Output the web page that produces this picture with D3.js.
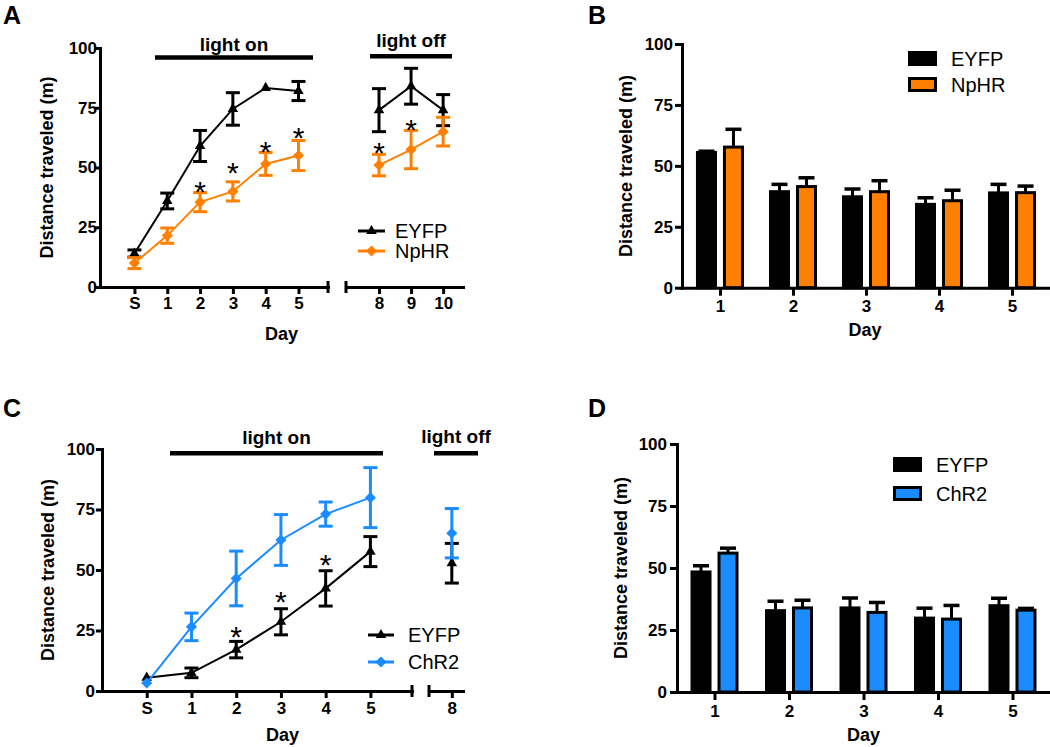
<!DOCTYPE html>
<html><head><meta charset="utf-8">
<script src="https://cdn.jsdelivr.net/npm/d3@7"></script>
<style>
body{margin:0;background:#fff;}
svg{display:block;font-family:"Liberation Sans",Arial,sans-serif;background:#fff;}
</style></head><body>
<svg id="fig" width="1050" height="747"></svg>
<script>
// ---------- Panel A (line, NpHR) ----------
const daysA = [0,1,2,3,4,5,8,9,10];
const dayLabelsA = ["S","1","2","3","4","5","8","9","10"];
const eyfpA = [14,36,59,74.5,83.3,82,74,84,74];
const eyfpAErr = [1.5,3.3,6.5,6.8,0,4,9,7.5,6.5];
const nphrA = [10,21.5,35.5,40,51.5,55,51,57.5,65];
const nphrAErr = [2.3,3.2,4,4,4.8,6.3,4.5,8,6];
const starsADay = [2,3,4,5,8,9];
const starsAY = [42.7,50.8,59.4,65.4,59,68.7];

// ---------- Panel B (bars, NpHR) ----------
const daysB = ["1","2","3","4","5"];
const eyfpB = [55.5,39.4,37.3,34.2,38.9];
const eyfpBErr = [0.5,3,3.2,2.7,3.5];
const nphrB = [57.7,41.5,39.4,35.7,39];
const nphrBErr = [7.3,3.6,4.5,4.3,2.7];

// ---------- Panel C (line, ChR2) ----------
const daysC = [0,1,2,3,4,5,8];
const dayLabelsC = ["S","1","2","3","4","5","8"];
const eyfpC = [5.5,7.5,17.1,28.6,42.4,57.6,52.8];
const eyfpCErr = [0,2,3.4,5.4,7.3,6.2,8.2];
const chr2C = [3.3,26.5,46.5,62.4,73.1,79.9,65.2];
const chr2CErr = [0,5.7,11.3,10.5,5,12.4,10.2];
const starsCDay = [2,3,4];
const starsCY = [25.2,39.7,55];

// ---------- Panel D (bars, ChR2) ----------
const daysD = ["1","2","3","4","5"];
const eyfpD = [48.4,32.8,33.9,29.8,34.8];
const eyfpDErr = [2.5,3.8,4,4,3];
const chr2D = [56,33.9,32.1,29.4,33];
const chr2DErr = [2,3.1,4,5.5,0.7];

const yTicks = [0,25,50,75,100];
const yTitle = "Distance traveled (m)";
const xTitle = "Day";

const FONT = '"Liberation Sans", Arial, sans-serif';
const ORANGE = "#ff8000", BLUE = "#1a8cff", BLACK = "#000";
const svg = d3.select("#fig");

function styleAxis(g){
  g.selectAll("path.domain").attr("stroke",BLACK).attr("stroke-width",3).attr("stroke-linecap","square");
  g.selectAll(".tick line").attr("stroke",BLACK).attr("stroke-width",3);
  g.selectAll(".tick text").attr("fill",BLACK).attr("font-size",17).attr("font-weight","bold").attr("font-family",FONT);
}

function titles(g, c){
  g.append("text").attr("transform",`translate(${c.yTitleX},${c.yTitleY}) rotate(-90)`)
    .attr("text-anchor","middle").attr("font-size",18).attr("font-weight","bold").text(yTitle);
  g.append("text").attr("x",c.xTitleX).attr("y",c.xTitleY).attr("text-anchor","middle")
    .attr("font-size",18).attr("font-weight","bold").text(xTitle);
  g.append("text").attr("x",c.labelX).attr("y",c.labelY)
    .attr("font-size",25).attr("font-weight","bold").text(c.label);
}

const triSym = d3.symbol(d3.symbolTriangle, 48);
const diaSym = d3.symbol(d3.symbolSquare, 62);

function linePanel(c){
  const g = svg.append("g");
  const y = d3.scaleLinear().domain([0,100]).range(c.yRange);
  const xs = c.segments.map(s => d3.scaleLinear().domain(s.domain).range(s.range));
  const segOf = d => c.segments.findIndex(s => d >= s.domain[0] && d <= s.domain[1]);
  const xOf = d => xs[segOf(d)](d);
  const y0 = c.yRange[0];

  // axes
  const ya = g.append("g").attr("transform",`translate(${c.yAxisX},0)`)
    .call(d3.axisLeft(y).tickValues(yTicks).tickSize(c.yTick).tickPadding(c.yPad).tickSizeOuter(0));
  styleAxis(ya);
  c.segments.forEach((s,k) => {
    const tv = c.days.filter(d => d >= s.domain[0] && d <= s.domain[1]);
    const xa = g.append("g").attr("transform",`translate(0,${y0})`)
      .call(d3.axisBottom(xs[k]).tickValues(tv).tickFormat(d => c.labels[c.days.indexOf(d)])
        .tickSize(7).tickPadding(c.xPad).tickSizeOuter(0));
    styleAxis(xa);
    s.breaks.forEach(b => {
      const bx = xs[k](s.domain[b]);
      g.append("line").attr("x1",bx).attr("x2",bx).attr("y1",y0-6).attr("y2",y0+6)
        .attr("stroke",BLACK).attr("stroke-width",3);
    });
  });

  // light annotations
  c.lights.forEach(l => {
    g.append("line").attr("x1",l.x1).attr("x2",l.x2).attr("y1",l.y).attr("y2",l.y)
      .attr("stroke",BLACK).attr("stroke-width",4.5);
    g.append("text").attr("x",(l.x1+l.x2)/2).attr("y",l.ty).attr("text-anchor","middle")
      .attr("font-size",19).attr("font-weight","bold").text(l.text);
  });

  // series
  c.series.forEach(s => {
    const sg = g.append("g");
    c.groups.forEach(grp => {
      sg.append("path").datum(grp)
        .attr("d", d3.line().x(i => xOf(c.days[i])).y(i => y(s.values[i])))
        .attr("fill","none").attr("stroke",s.color).attr("stroke-width",2);
    });
    c.days.forEach((d,i) => {
      const e = s.errs[i]; if (!e) return;
      const x = xOf(d), v = s.values[i];
      sg.append("line").attr("x1",x).attr("x2",x).attr("y1",y(v-e)).attr("y2",y(v+e))
        .attr("stroke",s.color).attr("stroke-width",3);
      [v-e, v+e].forEach(t => sg.append("line").attr("x1",x-7).attr("x2",x+7).attr("y1",y(t)).attr("y2",y(t))
        .attr("stroke",s.color).attr("stroke-width",3));
    });
    c.days.forEach((d,i) => {
      sg.append("path").attr("d", s.sym === "tri" ? triSym() : diaSym())
        .attr("transform",`translate(${xOf(d)},${y(s.values[i])})` + (s.sym === "tri" ? "" : " rotate(45)"))
        .attr("fill",s.color);
    });
  });

  // stars
  c.starDays.forEach((d,i) => {
    g.append("text").attr("x",xOf(d)).attr("y",y(c.starY[i]) + 17).attr("text-anchor","middle")
      .attr("font-size",30).text("*");
  });

  // legend
  c.series.forEach((s,i) => {
    const ly = c.legend.ys[i];
    g.append("line").attr("x1",c.legend.x1).attr("x2",c.legend.x2).attr("y1",ly).attr("y2",ly)
      .attr("stroke",s.color).attr("stroke-width",3);
    g.append("path").attr("d", s.sym === "tri" ? triSym() : diaSym())
      .attr("transform",`translate(${(c.legend.x1+c.legend.x2)/2},${ly})` + (s.sym === "tri" ? "" : " rotate(45)"))
      .attr("fill",s.color);
    g.append("text").attr("x",c.legend.tx).attr("y",ly+7).attr("font-size",20).text(s.name);
  });

  titles(g, c);
}

function barPanel(c){
  const g = svg.append("g");
  const y = d3.scaleLinear().domain([0,100]).range(c.yRange);
  const x = d3.scalePoint().domain(c.days).range([c.yAxisX, 1050]).padding(c.xPadding);
  const sub = d3.scaleBand().domain(c.series.map(s => s.name)).range([-22.5,22.5]).paddingInner(1/3);
  const bw = sub.bandwidth();

  c.series.forEach(s => {
    g.selectAll(null).data(c.days).join("rect")
      .attr("x", d => x(d) + sub(s.name))
      .attr("y", (d,i) => y(s.values[i]))
      .attr("width", bw)
      .attr("height", (d,i) => y(0) - y(s.values[i]))
      .attr("fill", s.color).attr("stroke",BLACK).attr("stroke-width",3);
    c.days.forEach((d,i) => {
      const cx = x(d) + sub(s.name) + bw/2, v = s.values[i], e = s.errs[i];
      g.append("line").attr("x1",cx).attr("x2",cx).attr("y1",y(v)).attr("y2",y(v+e))
        .attr("stroke",BLACK).attr("stroke-width",3);
      g.append("line").attr("x1",cx-8).attr("x2",cx+8).attr("y1",y(v+e)).attr("y2",y(v+e))
        .attr("stroke",BLACK).attr("stroke-width",3.5);
    });
  });

  const ya = g.append("g").attr("transform",`translate(${c.yAxisX},0)`)
    .call(d3.axisLeft(y).tickValues(yTicks).tickSize(c.yTick).tickPadding(c.yPad).tickSizeOuter(0));
  styleAxis(ya);
  const xa = g.append("g").attr("transform",`translate(0,${c.yRange[0]})`)
    .call(d3.axisBottom(x).tickSize(8).tickPadding(c.xPad).tickSizeOuter(0));
  styleAxis(xa);

  c.series.forEach((s,i) => {
    const ly = c.legend.ys[i];
    g.append("rect").attr("x",c.legend.x).attr("y",ly).attr("width",26).attr("height",12)
      .attr("fill",s.color).attr("stroke",BLACK).attr("stroke-width",3);
    g.append("text").attr("x",c.legend.tx).attr("y",ly+13).attr("font-size",20).text(s.name);
  });

  titles(g, c);
}

linePanel({
  label:"A", labelX:3, labelY:24,
  yRange:[287,48], yAxisX:100, yTick:6, yPad:-3, xPad:3,
  days: daysA, labels: dayLabelsA,
  segments:[{domain:[-1.05,5.9], range:[100,328], breaks:[1]},
            {domain:[6.97,10.62], range:[346,463], breaks:[0]}],
  groups:[[0,1,2,3,4,5],[6,7,8]],
  series:[{name:"EYFP", values:eyfpA, errs:eyfpAErr, color:BLACK, sym:"tri"},
          {name:"NpHR", values:nphrA, errs:nphrAErr, color:ORANGE, sym:"dia"}],
  starDays: starsADay, starY: starsAY,
  lights:[{x1:155,x2:313,y:57.5,ty:51,text:"light on"},
          {x1:370,x2:452,y:56.3,ty:47,text:"light off"}],
  legend:{x1:358,x2:385,tx:395,ys:[231,251]},
  yTitleX:53, yTitleY:167.5, xTitleX:281.5, xTitleY:340
});

barPanel({
  label:"B", labelX:588, labelY:24,
  yRange:[287.7,44], yAxisX:682, yTick:7, yPad:2, xPad:4, xPadding:0.52,
  days: daysB,
  series:[{name:"EYFP", values:eyfpB, errs:eyfpBErr, color:BLACK},
          {name:"NpHR", values:nphrB, errs:nphrBErr, color:ORANGE}],
  legend:{x:909.5, tx:951, ys:[52.5,78.5]},
  yTitleX:632, yTitleY:166, xTitleX:865, xTitleY:336
});

linePanel({
  label:"C", labelX:3, labelY:417,
  yRange:[691,449], yAxisX:102, yTick:6, yPad:1, xPad:4,
  days: daysC, labels: dayLabelsC,
  segments:[{domain:[-1,5.93], range:[102,412], breaks:[1]},
            {domain:[7.49,8.25], range:[429,463], breaks:[0]}],
  groups:[[0,1,2,3,4,5]],
  series:[{name:"EYFP", values:eyfpC, errs:eyfpCErr, color:BLACK, sym:"tri"},
          {name:"ChR2", values:chr2C, errs:chr2CErr, color:BLUE, sym:"dia"}],
  starDays: starsCDay, starY: starsCY,
  lights:[{x1:170,x2:383,y:453.3,ty:444,text:"light on"},
          {x1:434,x2:478,y:453.3,ty:442.5,text:"light off"}],
  legend:{x1:368,x2:394,tx:408,ys:[635,662]},
  yTitleX:54, yTitleY:570, xTitleX:282.5, xTitleY:741
});

barPanel({
  label:"D", labelX:588, labelY:417,
  yRange:[692,444], yAxisX:677, yTick:7, yPad:3, xPad:5, xPadding:0.5035,
  days: daysD,
  series:[{name:"EYFP", values:eyfpD, errs:eyfpDErr, color:BLACK},
          {name:"ChR2", values:chr2D, errs:chr2DErr, color:BLUE}],
  legend:{x:894.5, tx:936, ys:[458.5,487.5]},
  yTitleX:627, yTitleY:568, xTitleX:863.5, xTitleY:741
});
</script>
</body></html>
